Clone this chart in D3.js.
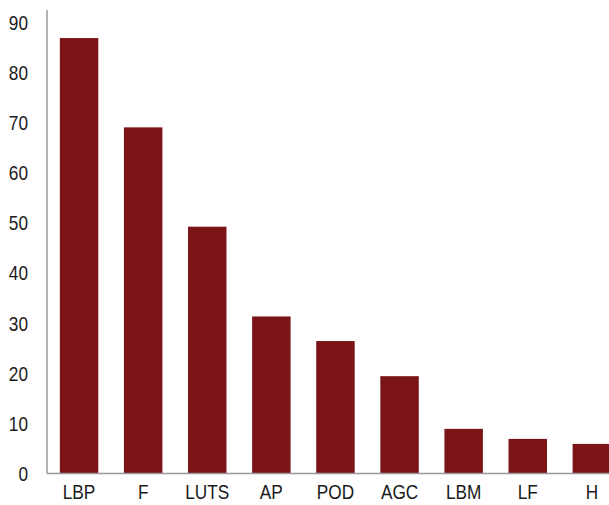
<!DOCTYPE html>
<html>
<head>
<meta charset="utf-8">
<script src="https://cdn.jsdelivr.net/npm/d3@7"></script>
<style>
  html, body { margin: 0; padding: 0; background: #fff; }
  svg { display: block; }
  .lbl { font-family: "Liberation Sans", Arial, sans-serif; font-size: 21px; fill: #1a1a1a; }
</style>
</head>
<body>
<svg id="chart" width="609" height="505"></svg>
<script>
// Categories and their values
const categories = ["LBP", "F", "LUTS", "AP", "POD", "AGC", "LBM", "LF", "H"];
const values = [86.8, 69.0, 49.2, 31.3, 26.4, 19.4, 8.9, 6.9, 5.9];
const yTicks = [0, 10, 20, 30, 40, 50, 60, 70, 80, 90];

const svg = d3.select("#chart");
const x0 = 47, baseY = 473.5, topY = 22;
const narrow = 0.82; // horizontal squeeze for a condensed look

const x = d3.scaleBand()
  .domain(categories)
  .range([x0, x0 + 9 * 64.1])
  .paddingInner(0.4)
  .paddingOuter(0.2);

const y = d3.scaleLinear().domain([0, 90]).range([baseY, topY]);

// bars
svg.append("g").selectAll("rect")
  .data(categories)
  .join("rect")
  .attr("x", d => x(d))
  .attr("width", x.bandwidth())
  .attr("y", (d, i) => y(values[i]))
  .attr("height", (d, i) => y(0) - y(values[i]))
  .attr("fill", "#7b1417");

// baseline
svg.append("line")
  .attr("x1", x0).attr("x2", 609)
  .attr("y1", baseY).attr("y2", baseY)
  .attr("stroke", "#999").attr("stroke-width", 1.5);

// y axis line
svg.append("line")
  .attr("x1", x0).attr("x2", x0)
  .attr("y1", 10).attr("y2", baseY)
  .attr("stroke", "#999").attr("stroke-width", 1.5);

// y tick labels
svg.append("g").selectAll("text")
  .data(yTicks)
  .join("text")
  .attr("class", "lbl")
  .attr("transform", d => `translate(28,${y(d)}) scale(${narrow},1)`)
  .attr("dy", "0.36em")
  .attr("text-anchor", "end")
  .text(d => d);

// category labels
svg.append("g").selectAll("text")
  .data(categories)
  .join("text")
  .attr("class", "lbl")
  .attr("transform", d => `translate(${x(d) + x.bandwidth() / 2},499) scale(${narrow},1)`)
  .attr("text-anchor", "middle")
  .text(d => d);
</script>
</body>
</html>
